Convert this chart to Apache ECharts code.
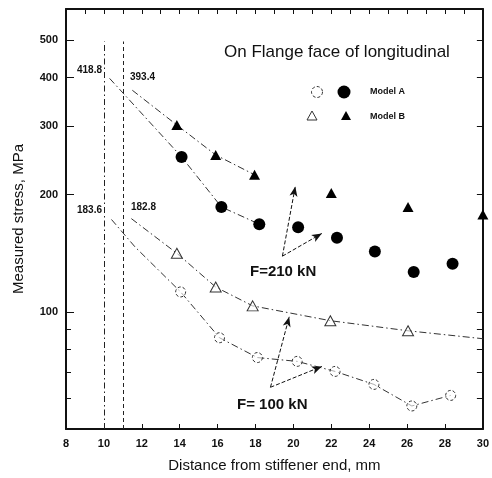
<!DOCTYPE html>
<html>
<head>
<meta charset="utf-8">
<script src="https://cdn.jsdelivr.net/npm/echarts@6/dist/echarts.min.js"></script>
<style>
html,body{margin:0;padding:0;background:#fff;}
#chart{width:492px;height:478px;}
</style>
</head>
<body>
<div id="chart"></div>
<script>
// ---- data ----
const xTickValues = [8, 10, 12, 14, 16, 18, 20, 22, 24, 26, 28, 30];
const yLabelValues = [100, 200, 300, 400, 500];
const yMinorValues = [60, 70, 80, 90];

// F = 210 kN (filled symbols)
const modelA210X = [14.1, 16.2, 18.2, 20.25, 22.3, 24.3, 26.35, 28.4];
const modelA210Y = [250, 186, 168, 165, 155, 143, 126.5, 133];
const modelB210X = [13.85, 15.9, 17.95, 22.0, 26.05, 30.0];
const modelB210Y = [302, 253, 225, 202, 186, 178];

// F = 100 kN (open symbols)
const modelA100X = [14.05, 16.1, 18.1, 20.2, 22.2, 24.25, 26.25, 28.3];
const modelA100Y = [112.5, 85.8, 76.3, 74.6, 70.3, 65.1, 57.3, 61];
const modelB100X = [13.85, 15.9, 17.85, 21.95, 26.05];
const modelB100Y = [141.4, 115.8, 103.6, 94.9, 89.4];

// fitted / extrapolated curves
const fitA210X = [10.3, 14.1, 16.2, 18.2];
const fitA210Y = [398, 250, 186, 168];
const fitB210X = [11.5, 13.85, 15.9, 17.95];
const fitB210Y = [371, 302, 253, 225];
const fitA100X = [10.4, 11.65, 14.05, 16.1, 18.1, 20.2, 22.2, 24.25, 26.25, 28.3];
const fitA100Y = [172.7, 146.7, 112.5, 85.8, 76.3, 74.6, 70.3, 65.1, 57.3, 61];
const fitB100X = [11.45, 13.85, 15.9, 17.85, 21.95, 26.05, 30.0];
const fitB100Y = [173.6, 141.4, 115.8, 103.6, 94.9, 89.4, 85.3];

// reference positions (vertical lines) and their values
const refX = [10, 11];
const refTop = 495;
const refLabels210 = ['418.8', '393.4'];
const refLabels100 = ['183.6', '182.8'];

// arrows: [fromX, fromY, toX, toY]
const arrows210 = [[19.42, 139, 20.1, 210], [19.42, 139, 21.5, 159]];
const arrows100 = [[18.79, 64, 19.78, 97.1], [18.79, 64, 21.5, 72.4]];

const pairs = (xs, ys) => xs.map((x, i) => [x, ys[i]]);

const FONT = 'Liberation Sans, Arial, sans-serif';
const INK = '#111';

const chart = echarts.init(document.getElementById('chart'));

const dashDot = [7, 3, 1.5, 3];

function fitSeries(xs, ys, type) {
  return {
    type: 'line', xAxisIndex: 0, yAxisIndex: 0,
    data: pairs(xs, ys), symbol: 'none', silent: true, z: 2,
    lineStyle: { color: '#333', width: 1, type: type }
  };
}

function arrowLines(list) {
  return list.map(a => [
    { coord: [a[0], a[1]], symbol: 'none' },
    { coord: [a[2], a[3]], symbol: 'arrow', symbolSize: [6, 10] }
  ]);
}

const triPath = 'path://M0,-10 L8.66,5 L-8.66,5 Z';

const option = {
  animation: false,
  backgroundColor: '#fff',
  grid: { left: 66, right: 4, top: 9, bottom: 46, containLabel: false },
  xAxis: [
    {
      type: 'value', min: 8, max: 30, interval: 2, position: 'bottom',
      axisLine: { lineStyle: { color: INK, width: 2 } },
      axisTick: { inside: true, length: 5, lineStyle: { color: INK } },
      axisLabel: { color: INK, fontFamily: FONT, fontWeight: 'bold', fontSize: 11, margin: 9 },
      splitLine: { show: false },
      name: 'Distance from stiffener end, mm', nameLocation: 'middle', nameGap: 29,
      nameTextStyle: { color: INK, fontFamily: FONT, fontSize: 15 }
    },
    {
      type: 'value', min: 8, max: 30, interval: 1, position: 'top',
      axisLine: { lineStyle: { color: INK, width: 2 } },
      axisTick: { inside: true, length: 5, lineStyle: { color: INK } },
      axisLabel: { show: false }, splitLine: { show: false }
    }
  ],
  yAxis: [
    {
      type: 'log', logBase: 10, min: 50, max: 600, position: 'left',
      axisLine: { lineStyle: { color: INK, width: 2 } },
      axisTick: { inside: true, length: 8, customValues: yLabelValues, lineStyle: { color: INK } },
      axisLabel: { color: INK, fontFamily: FONT, fontWeight: 'bold', fontSize: 11, margin: 8, customValues: yLabelValues },
      splitLine: { show: false },
      name: 'Measured stress, MPa', nameLocation: 'middle', nameGap: 40, nameRotate: 90,
      nameTextStyle: { color: INK, fontFamily: FONT, fontSize: 15 }
    },
    {
      type: 'log', logBase: 10, min: 50, max: 600, position: 'right',
      axisLine: { lineStyle: { color: INK, width: 2 } },
      axisTick: { inside: true, length: 6, customValues: yMinorValues.concat(yLabelValues), lineStyle: { color: INK } },
      axisLabel: { show: false, customValues: yLabelValues }, splitLine: { show: false }
    },
    {
      type: 'log', logBase: 10, min: 50, max: 600, position: 'left',
      axisLine: { show: false },
      axisTick: { inside: true, length: 5, customValues: yMinorValues, lineStyle: { color: INK } },
      axisLabel: { show: false, customValues: yMinorValues }, splitLine: { show: false }
    }
  ],
  series: [
    // vertical reference lines
    {
      type: 'line', data: [], symbol: 'none', silent: true,
      markLine: {
        silent: true, symbol: 'none', animation: false,
        label: { show: false },
        data: [
          [{ coord: [refX[0], 50], lineStyle: { type: [6, 3, 1.5, 3], color: '#222', width: 1 } }, { coord: [refX[0], refTop] }],
          [{ coord: [refX[1], 50], lineStyle: { type: [4, 3], color: '#222', width: 1 } }, { coord: [refX[1], refTop] }]
        ]
      }
    },
    fitSeries(fitA210X, fitA210Y, dashDot),
    fitSeries(fitB210X, fitB210Y, dashDot),
    fitSeries(fitA100X, fitA100Y, dashDot),
    fitSeries(fitB100X, fitB100Y, dashDot),
    {
      name: 'Model A 210', type: 'scatter', data: pairs(modelA210X, modelA210Y),
      symbol: 'circle', symbolSize: 12, itemStyle: { color: '#000', opacity: 1 }, z: 5
    },
    {
      name: 'Model B 210', type: 'scatter', data: pairs(modelB210X, modelB210Y),
      symbol: triPath, symbolSize: [11, 10], itemStyle: { color: '#000', opacity: 1 }, z: 5
    },
    {
      name: 'Model A 100', type: 'scatter', data: pairs(modelA100X, modelA100Y),
      symbol: 'circle', symbolSize: 10,
      itemStyle: { color: 'rgba(255,255,255,0.6)', borderColor: '#333', borderWidth: 1, borderType: [3, 2], opacity: 1 }, z: 5
    },
    {
      name: 'Model B 100', type: 'scatter', data: pairs(modelB100X, modelB100Y),
      symbol: triPath, symbolSize: [11, 10],
      itemStyle: { color: 'rgba(255,255,255,0.6)', borderColor: '#333', borderWidth: 1, opacity: 1 }, z: 5
    },
    // arrows
    {
      type: 'line', data: [], symbol: 'none', silent: true,
      markLine: {
        silent: true, animation: false, label: { show: false },
        lineStyle: { color: '#111', width: 1, type: [4, 2] },
        data: arrowLines(arrows210).concat(arrowLines(arrows100))
      }
    }
  ],
  graphic: [
    { type: 'text', left: 224, top: 44, style: { text: 'On Flange face of longitudinal', font: '17px ' + FONT, fill: INK } },
    // legend
    { type: 'circle', shape: { cx: 317, cy: 92, r: 5.5 }, style: { fill: '#fff', stroke: '#333', lineWidth: 1, lineDash: [3, 2] } },
    { type: 'circle', shape: { cx: 344, cy: 92, r: 6.5 }, style: { fill: '#000' } },
    { type: 'text', left: 370, top: 87, style: { text: 'Model A', font: 'bold 9px ' + FONT, fill: INK } },
    { type: 'polygon', shape: { points: [[312, 111], [317, 120], [307, 120]] }, style: { fill: '#fff', stroke: '#333', lineWidth: 1 } },
    { type: 'polygon', shape: { points: [[346, 111], [351, 120], [341, 120]] }, style: { fill: '#000' } },
    { type: 'text', left: 370, top: 112, style: { text: 'Model B', font: 'bold 9px ' + FONT, fill: INK } },
    // reference values
    { type: 'text', right: 492 - 102, top: 65, style: { text: refLabels210[0], font: 'bold 10px ' + FONT, fill: INK, align: 'right' } },
    { type: 'text', left: 130, top: 72, style: { text: refLabels210[1], font: 'bold 10px ' + FONT, fill: INK } },
    { type: 'text', right: 492 - 102, top: 205, style: { text: refLabels100[0], font: 'bold 10px ' + FONT, fill: INK, align: 'right' } },
    { type: 'text', left: 131, top: 202, style: { text: refLabels100[1], font: 'bold 10px ' + FONT, fill: INK } },
    // load labels
    { type: 'text', left: 250, top: 264, style: { text: 'F=210 kN', font: 'bold 15px ' + FONT, fill: INK } },
    { type: 'text', left: 237, top: 397, style: { text: 'F= 100 kN', font: 'bold 15px ' + FONT, fill: INK } }
  ]
};

chart.setOption(option);
</script>
</body>
</html>
